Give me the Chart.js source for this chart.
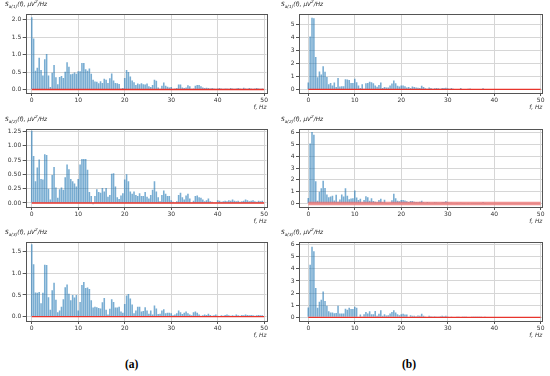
<!DOCTYPE html>
<html>
<head>
<meta charset="utf-8">
<script src="https://cdn.jsdelivr.net/npm/chart.js@4.4.1/dist/chart.umd.min.js"></script>
<style>
  body { margin:0; background:#fff; width:550px; height:376px; position:relative; overflow:hidden; font-family:'DejaVu Sans', sans-serif; }
  canvas { position:absolute; }
  .ylab { position:absolute; font-size:5.8px; font-style:italic; color:#222; white-space:nowrap; }
  .ylab sub, .ylab sup { font-size:4.2px; line-height:0; }
  .cap { position:absolute; font-family:'Liberation Serif', serif; font-weight:bold; font-size:11.5px; color:#000; }
</style>
</head>
<body>
<canvas id="a1" width="272" height="106"></canvas>
<canvas id="a2" width="272" height="106"></canvas>
<canvas id="a3" width="272" height="106"></canvas>
<canvas id="b1" width="272" height="106"></canvas>
<canvas id="b2" width="272" height="106"></canvas>
<canvas id="b3" width="272" height="106"></canvas>

<div class="ylab" style="left:5px;top:1px">S<sub>a(1)</sub>(f), μV<sup>2</sup>/Hz</div>
<div class="ylab" style="left:5px;top:116px">S<sub>a(2)</sub>(f), μV<sup>2</sup>/Hz</div>
<div class="ylab" style="left:5px;top:229px">S<sub>a(3)</sub>(f), μV<sup>2</sup>/Hz</div>
<div class="ylab" style="left:281px;top:1px">S<sub>a(1)</sub>(f), μV<sup>2</sup>/Hz</div>
<div class="ylab" style="left:281px;top:116px">S<sub>a(2)</sub>(f), μV<sup>2</sup>/Hz</div>
<div class="ylab" style="left:281px;top:229px">S<sub>a(3)</sub>(f), μV<sup>2</sup>/Hz</div>
<div class="cap" style="left:125px;top:358px">(a)</div>
<div class="cap" style="left:402px;top:358px">(b)</div>

<script>
// frequency bins are 0.4 Hz apart, starting at 0 Hz
var binStep = 0.4;

// column (a) spectra, 0 .. 49.6 Hz
var sa1 = [2.07,1.46,0.54,0.62,0.91,0.56,0.40,0.87,1.02,0.40,
  0.07,0.48,0.70,0.35,0.15,0.36,0.39,0.33,0.51,0.78,
  0.65,0.44,0.45,0.49,0.45,0.52,0.52,0.76,0.76,0.58,
  0.54,0.60,0.45,0.28,0.23,0.22,0.18,0.24,0.19,0.31,
  0.28,0.19,0.32,0.46,0.26,0.19,0.18,0.16,0.03,0.04,
  0.33,0.56,0.50,0.37,0.26,0.21,0.13,0.17,0.15,0.18,
  0.15,0.14,0.17,0.09,0.07,0.13,0.28,0.25,0.06,0.02,
  0.11,0.20,0.11,0.08,0.06,0.07,0.02,0.03,0.04,0.14,
  0.14,0.06,0.04,0.06,0.12,0.09,0.02,0.03,0.11,0.13,
  0.13,0.09,0.06,0.04,0.05,0.04,
  0.03,0.04,0.03,0.02,0.03,0.04,0.03,0.02,0.03,0.03,0.02,0.04,0.03,0.02,0.03,
  0.04,0.03,0.02,0.05,0.03,0.02,0.04,0.03,0.02,0.03,0.04,0.03,0.02,0.03];

var sa2 = [1.26,0.82,0.38,0.62,0.76,0.42,0.41,0.85,0.84,0.25,
  0.06,0.49,0.63,0.27,0.09,0.24,0.27,0.23,0.45,0.67,
  0.59,0.42,0.38,0.34,0.29,0.42,0.67,0.77,0.77,0.77,
  0.58,0.19,0.12,-0.02,0.12,0.24,0.19,0.18,0.26,0.20,
  0.26,0.11,0.14,0.51,0.52,0.29,0.10,0.07,0.13,0.17,
  0.41,0.50,0.38,0.20,0.16,0.20,0.14,0.12,0.17,0.12,
  0.12,0.19,0.11,0.08,0.14,0.23,0.38,0.20,0.10,0.03,
  0.14,0.22,0.16,0.12,0.12,0.05,0.02,0.01,0.03,0.14,
  0.18,0.10,0.06,0.13,0.16,0.08,0.01,0.04,0.12,0.13,
  0.10,0.09,0.06,0.03,0.05,0.08,
  0.03,0.02,0.01,0.01,0.05,0.04,0.02,0.03,0.04,0.03,0.05,0.04,0.06,0.04,0.03,
  0.04,0.02,0.03,0.04,0.06,0.05,0.03,0.04,0.05,0.03,0.02,0.04,0.03,0.04];

var sa3 = [1.67,1.21,0.56,0.55,0.57,0.31,0.55,1.20,1.19,0.45,
  0.16,0.61,0.78,0.39,0.10,0.14,0.23,0.40,0.68,0.74,
  0.53,0.38,0.50,0.44,0.50,0.14,0.34,0.73,0.80,0.66,
  0.67,0.64,0.38,0.21,0.23,0.22,0.20,0.19,0.33,0.43,
  0.16,0.05,0.18,0.40,0.34,0.21,0.21,0.23,0.12,0.09,
  0.29,0.49,0.52,0.42,0.28,0.08,0.14,0.23,0.23,0.12,
  0.13,0.22,0.14,0.07,0.14,0.05,0.26,0.19,0.06,0.07,
  0.14,0.17,0.08,0.09,0.09,0.08,0.03,0.05,0.08,0.14,
  0.10,0.06,0.09,0.12,0.08,0.05,0.03,0.10,0.12,0.09,
  0.05,0.02,0.03,0.05,0.04,0.07,
  0.04,0.02,0.03,0.05,0.02,0.01,0.03,0.02,0.04,0.05,0.03,0.02,0.03,0.02,0.05,
  0.03,0.02,0.04,0.03,0.05,0.04,0.03,0.04,0.03,0.02,0.03,0.04,0.03,0.03];

// column (b) spectra, 0 .. 38 Hz (nothing visible above)
var sb1 = [0.53,4.10,5.55,5.50,2.50,0.93,1.39,1.16,1.79,1.36,
  0.96,0.40,0.50,0.30,0.53,0.18,0.88,0.23,0.25,0.25,
  0.78,0.76,0.73,0.50,0.50,0.83,0.55,0.30,0.10,0.40,
  0.05,0.48,0.50,0.60,0.55,0.48,0.30,0.20,0.33,0.53,
  0.10,0.18,0.15,0.15,0.30,0.45,0.68,0.48,0.28,0.23,
  0.30,0.30,0.25,0.15,0.18,0.10,0.23,0.18,0.15,0.13,
  0.10,0.28,0.18,0.08,0.05,0.15,0.10,0.05,0.08,0.10,
  0.08,0.05,0.10,0.10,0.13,0.08,0.05,0.10,0.05,0.03,
  0.02,0.03,0.10,0.02,0.01,0.03,0.04,0.06,0.02,0.01,
  0.02,0.01,0.02,0.01,0.08,0.01];

var sb2 = [0.46,5.07,6.05,5.83,1.88,0.22,1.00,1.28,1.93,1.31,
  0.76,0.52,0.60,0.65,0.25,0.74,0.14,0.33,0.76,0.60,
  1.28,0.65,0.35,0.42,0.44,1.10,0.50,0.30,0.40,0.10,
  0.30,0.62,0.52,0.22,0.45,0.20,0.15,0.10,0.30,0.40,
  0.10,0.32,0.02,0.01,0.05,0.28,0.82,0.45,0.22,0.18,
  0.30,0.30,0.25,0.18,0.12,0.20,0.20,0.15,0.12,0.10,
  0.15,0.22,0.10,0.05,0.12,0.08,0.06,0.05,0.10,0.08,
  0.05,0.05,0.10,0.12,0.18,0.10,0.05,0.06,0.04,0.03,
  0.02,0.04,0.06,0.02,0.01,0.03,0.02,0.04,0.01,0.02,
  0.01,0.01,0.02,0.01,0.10,0.02];

var sb3 = [0.82,4.34,5.82,5.45,2.42,0.79,1.29,1.45,2.13,1.34,
  0.95,0.50,0.39,0.39,0.34,0.35,0.95,0.32,0.32,0.32,
  0.71,0.63,0.79,0.68,0.68,0.87,0.79,0.05,0.24,0.03,
  0.26,0.45,0.32,0.50,0.26,0.26,0.53,0.13,0.29,0.58,
  0.13,0.26,0.16,0.18,0.32,0.45,0.58,0.39,0.26,0.18,
  0.26,0.29,0.24,0.24,0.05,0.18,0.13,0.13,0.10,0.16,
  0.13,0.29,0.13,0.08,0.05,0.13,0.10,0.08,0.10,0.08,
  0.08,0.10,0.13,0.10,0.13,0.08,0.05,0.08,0.05,0.04,
  0.02,0.03,0.05,0.02,0.03,0.02,0.04,0.05,0.02,0.01,
  0.02,0.02,0.01,0.02,0.05,0.01];

// red reference line along zero, 0 .. 50 Hz
var refFreq = [0, 50];
var refLevel = [0, 0];

// x tick labels and per-panel y ticks
var xTicks = [0, 10, 20, 30, 40, 50];
var yTicksA1 = [0, 0.5, 1.0, 1.5, 2.0];
var yTicksA2 = [0, 0.25, 0.5, 0.75, 1.0, 1.25];
var yTicksA3 = [0, 0.5, 1.0, 1.5];
var yTicksB = [0, 1, 2, 3, 4, 5, 6];

var Spectra = {
    cols:[
        {left:0, axisLeft:25.7, axisRight:266.5, xMin:-1.3, xMax:50.5},
        {left:275, axisLeft:24, axisRight:267.3, xMin:-2.0, xMax:50.35}
    ],
    rows:[
        {top:12.7, bottom:93},
        {top:127.5, bottom:206},
        {top:240.5, bottom:320.5}
    ],

    boxPlugin:{
        id:'box',
        afterDraw:(chart)=>{
            var a = chart.chartArea, ctx = chart.ctx;
            ctx.save();
            ctx.strokeStyle = '#555';
            ctx.lineWidth = 1;
            ctx.strokeRect(Math.round(a.left)+0.5, Math.round(a.top)+0.5,
                Math.round(a.right-a.left), Math.round(a.bottom-a.top));
            ctx.restore();
        }
    },

    init:()=>{
        Chart.defaults.font.family = "'DejaVu Sans', sans-serif";
        Chart.defaults.color = '#333';
        Spectra.genPanel('a1', 0, 0, sa1, yTicksA1, 1, -0.10, 2.16, '#e8342c', 1.4);
        Spectra.genPanel('a2', 0, 1, sa2, yTicksA2, 2, -0.07, 1.29, '#e8342c', 1.4);
        Spectra.genPanel('a3', 0, 2, sa3, yTicksA3, 1, -0.10, 1.72, '#e8342c', 1.4);
        Spectra.genPanel('b1', 1, 0, sb1, yTicksB, 0, -0.28, 5.83, '#e8342c', 1.4);
        Spectra.genPanel('b2', 1, 1, sb2, yTicksB, 0, -0.30, 6.30, 'rgba(235,110,110,0.75)', 3.5);
        Spectra.genPanel('b3', 1, 2, sb3, yTicksB, 0, -0.30, 6.20, '#e8342c', 1.4);
    },

    genPanel:(id, colIdx, rowIdx, values, yTicks, decimals, yMin, yMax, refColor, refWidth)=>{
        var col = Spectra.cols[colIdx], row = Spectra.rows[rowIdx];
        var padTop = 4, xAxisH = 18;
        var el = document.getElementById(id);
        var h = Math.round(padTop + (row.bottom - row.top) + xAxisH + 2);
        el.height = h;
        el.style.left = col.left + 'px';
        el.style.top = (row.top - padTop) + 'px';
        el.style.width = '272px';
        el.style.height = h + 'px';

        new Chart(el, {
            type: 'bar',
            data: {
                datasets: [
                    {
                        type: 'line',
                        data: refFreq.map((f, i) => ({x: f, y: refLevel[i]})),
                        borderColor: refColor,
                        borderWidth: refWidth,
                        pointRadius: 0,
                        order: 0
                    },
                    {
                        data: values.map((v, i) => ({x: i * binStep, y: v})),
                        backgroundColor: 'rgba(31, 119, 180, 0.6)',
                        borderWidth: 0,
                        barPercentage: 0.85,
                        categoryPercentage: 1,
                        order: 1
                    }
                ]
            },
            options: {
                responsive: false,
                animation: false,
                devicePixelRatio: 1,
                layout: {
                    padding: {top: padTop, left: 0, right: 272 - col.axisRight, bottom: 2}
                },
                scales: {
                    x: {
                        type: 'linear',
                        min: col.xMin,
                        max: col.xMax,
                        offset: false,
                        afterBuildTicks: (s) => { s.ticks = xTicks.map(v => ({value: v})); },
                        afterFit: (s) => { s.height = xAxisH; },
                        ticks: {
                            font: {size: 6},
                            padding: 1,
                            maxRotation: 0,
                            callback: (v) => v
                        },
                        grid: {
                            offset: false,
                            color: '#d6d6d6',
                            tickColor: '#555',
                            tickLength: 3
                        },
                        border: {display: false},
                        title: {
                            display: true,
                            text: 'f, Hz',
                            align: 'end',
                            font: {size: 5.8, style: 'italic'},
                            padding: {top: 0, bottom: 0}
                        }
                    },
                    y: {
                        min: yMin,
                        max: yMax,
                        afterBuildTicks: (s) => {
                            s.ticks = yTicks.filter(v => v >= yMin && v <= yMax).map(v => ({value: v}));
                        },
                        afterFit: (s) => { s.width = col.axisLeft; },
                        ticks: {
                            font: {size: 6},
                            padding: 1.5,
                            callback: (v) => Number(v).toFixed(decimals)
                        },
                        grid: {
                            color: '#d6d6d6',
                            tickColor: '#555',
                            tickLength: 3
                        },
                        border: {display: false}
                    }
                },
                plugins: {
                    legend: {display: false},
                    tooltip: {enabled: false}
                }
            },
            plugins: [Spectra.boxPlugin]
        });
    }
}

Spectra.init();
</script>
</body>
</html>
